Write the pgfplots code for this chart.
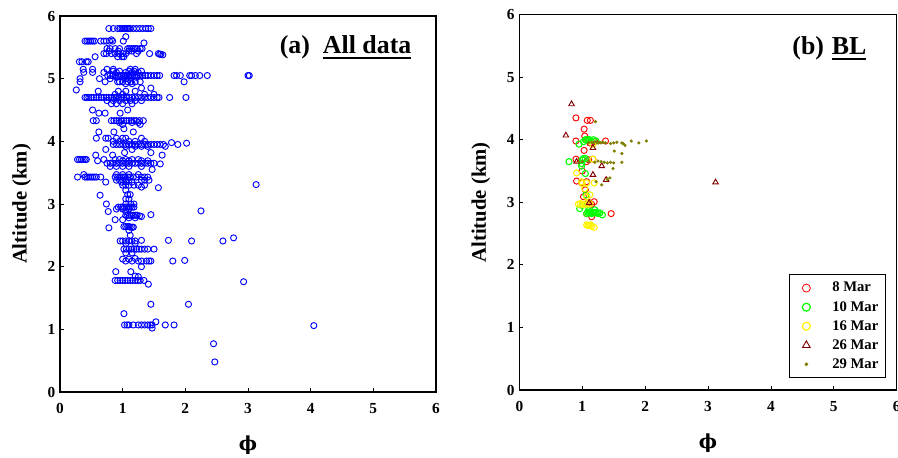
\documentclass[border=0pt]{standalone}
\usepackage{pgfplots}
\pgfplotsset{compat=1.18}
\usepackage{fontspec}
\setmainfont{Liberation Serif}
\newfontfamily\dvserif{DejaVu Serif}
\definecolor{oliveB}{RGB}{128,128,0}
\definecolor{dredB}{RGB}{128,0,0}
\newcommand\ulbox[1]{\setbox0\hbox{#1}\rlap{\rule[-4pt]{\wd0}{1.4pt}}\box0}
\pgfplotsset{
 mystyle/.style={
  scale only axis, width=282pt, height=282pt,
  xmin=0,xmax=6,ymin=0,ymax=6,
  xtick={0,...,6}, ytick={0,...,6},
  tick align=inside, xtick pos=bottom, ytick pos=left,
  major tick length=3pt,
  axis line style={line width=0.8pt},
  tick style={line width=0.6pt, black},
  /pgf/number format/assume math mode=true,
  ticklabel style={font=\bfseries\fontsize{11.5}{13}\selectfont},
  xticklabel style={yshift=-5pt},
  xlabel={{\dvserif\bfseries ϕ}}, ylabel={Altitude (km)},
  every axis x label/.style={at={(axis description cs:0.5,-0.142)},anchor=center,font=\bfseries\fontsize{14.5}{18}\selectfont},
  every axis y label/.style={at={(axis description cs:-0.102,0.5)},rotate=90,anchor=center,font=\bfseries\fontsize{15.5}{18}\selectfont},
  clip=false,
 }
}
\begin{document}
\begin{tikzpicture}
\useasboundingbox (0,0) rectangle (673.5pt,342.75pt);
\begin{axis}[mystyle, at={(45pt,48.75pt)}, anchor=south west]
\addplot[only marks, mark=o, blue, mark size=2.3pt, line width=0.7pt] coordinates {
(0.78,5.80)(0.85,5.80)(0.92,5.80)(0.96,5.80)(0.99,5.80)(1.02,5.80)(1.04,5.80)(1.06,5.80)(1.08,5.80)(1.10,5.80)(1.12,5.80)(1.17,5.80)(1.22,5.80)(1.27,5.80)(1.32,5.80)(1.37,5.80)(1.41,5.80)(1.45,5.80)
(1.05,5.67)
(0.40,5.60)(0.43,5.60)(0.46,5.60)(0.49,5.60)(0.52,5.60)(0.55,5.60)(0.65,5.60)(0.70,5.60)(0.74,5.60)(0.79,5.60)(0.84,5.60)(1.01,5.60)(0.82,5.62)(1.34,5.57)
(0.75,5.48)(0.80,5.48)(0.88,5.48)(0.95,5.48)(1.08,5.48)(1.11,5.48)(1.14,5.48)(1.17,5.48)(1.20,5.48)(1.23,5.48)(1.28,5.48)(1.31,5.48)
(0.78,5.44)(0.93,5.44)(1.10,5.44)(1.15,5.44)(1.25,5.44)
(0.70,5.40)(0.74,5.40)(0.82,5.40)(0.88,5.40)(0.94,5.40)(1.00,5.40)(1.05,5.40)(1.22,5.40)(1.43,5.40)(1.57,5.40)(1.59,5.39)(1.61,5.39)(1.64,5.38)
(0.56,5.35)(0.92,5.35)(0.99,5.35)(1.02,5.35)
(0.31,5.27)(0.35,5.27)(0.42,5.27)(0.45,5.27)
(0.37,5.15)(0.52,5.15)(0.75,5.15)(0.85,5.15)(1.12,5.15)(1.20,5.15)
(0.38,5.10)(0.52,5.10)(0.70,5.10)(0.90,5.10)(1.05,5.10)(1.15,5.10)(1.25,5.10)
(0.32,5.00)(0.63,5.00)(0.80,5.00)(1.05,5.00)
(0.32,4.95)(0.72,4.95)(0.92,4.95)(0.95,4.95)(1.00,4.95)(1.08,4.95)(1.13,4.95)(1.20,4.95)(1.28,4.95)(1.98,4.95)
(0.26,4.82)
(0.76,5.05)(0.80,5.05)(0.84,5.05)(0.88,5.05)(0.92,5.05)(0.95,5.05)(0.98,5.05)(1.01,5.05)(1.04,5.05)(1.07,5.05)(1.10,5.05)(1.13,5.05)(1.16,5.05)(1.19,5.05)(1.22,5.05)(1.25,5.05)(1.28,5.05)(1.32,5.05)(1.36,5.05)(1.40,5.05)(1.45,5.05)(1.50,5.05)(1.55,5.05)(1.59,5.05)(1.82,5.05)(1.86,5.05)(1.92,5.05)(2.07,5.05)(2.10,5.05)(2.16,5.05)(2.23,5.05)(2.35,5.05)(3.00,5.05)(3.02,5.05)
(0.85,5.12)(0.95,5.12)(1.10,5.12)(1.18,5.12)(1.30,5.12)
(0.90,5.02)(1.02,5.02)(1.12,5.02)(1.22,5.02)
(1.05,4.92)(1.15,4.92)
(1.45,4.85)(1.30,4.85)
(0.61,4.80)(0.93,4.80)(1.05,4.80)(1.20,4.80)
(0.88,4.75)(1.00,4.75)(1.35,4.75)(1.50,4.75)
(0.40,4.70)(0.43,4.70)(0.46,4.70)(0.50,4.70)(0.54,4.70)(0.58,4.70)(0.62,4.70)(0.66,4.70)(0.70,4.70)(0.74,4.70)(0.78,4.70)(0.82,4.70)(0.86,4.70)(0.90,4.70)(0.94,4.70)(0.98,4.70)(1.02,4.70)(1.06,4.70)(1.10,4.70)(1.15,4.70)(1.20,4.70)(1.25,4.70)(1.30,4.70)(1.35,4.70)(1.40,4.70)(1.45,4.70)(1.50,4.70)(1.55,4.70)(1.58,4.70)(1.75,4.70)(2.01,4.70)
(0.75,4.65)(0.85,4.65)(0.95,4.65)(1.05,4.65)(1.12,4.65)(1.20,4.65)(1.30,4.65)
(0.82,4.60)(0.90,4.60)(1.00,4.60)(1.15,4.60)
(0.52,4.50)(1.08,4.50)
(0.62,4.45)(0.72,4.45)(0.96,4.45)
(0.53,4.33)(0.58,4.33)(0.82,4.33)(0.86,4.33)(0.90,4.33)(0.94,4.33)(0.98,4.33)(1.02,4.33)(1.06,4.33)(1.10,4.33)(1.14,4.33)(1.18,4.33)(1.22,4.33)(1.27,4.33)(1.33,4.33)
(0.95,4.30)(1.15,4.30)(1.25,4.30)
(1.00,4.27)(1.28,4.27)
(1.02,4.20)
(0.62,4.15)(0.86,4.15)(1.17,4.15)
(0.58,4.05)(0.73,4.05)(0.77,4.05)(0.90,4.05)(1.00,4.05)(1.05,4.05)(1.30,4.05)
(0.85,4.00)(0.95,4.00)(1.10,4.00)(1.20,4.00)(1.35,4.00)
(0.85,3.95)(0.90,3.95)(0.95,3.95)(1.00,3.95)(1.05,3.95)(1.10,3.95)(1.15,3.95)(1.20,3.95)(1.25,3.95)(1.30,3.95)(1.35,3.95)(1.40,3.95)(1.45,3.95)(1.50,3.95)(1.55,3.95)(1.60,3.95)(1.65,3.95)(1.78,3.98)(1.88,3.95)(2.02,3.97)
(1.05,3.92)(1.20,3.92)(1.30,3.92)(1.40,3.92)(1.68,3.92)
(0.73,3.87)(1.15,3.87)
(1.03,3.82)(1.45,3.82)
(0.57,3.78)(0.84,3.78)(1.63,3.78)
(0.28,3.71)(0.31,3.71)(0.34,3.71)(0.37,3.71)(0.40,3.71)(0.42,3.71)(0.70,3.71)(0.88,3.71)(0.95,3.71)(1.05,3.71)(1.15,3.71)(1.25,3.71)
(0.60,3.69)(1.00,3.69)(1.10,3.69)(1.30,3.69)(1.40,3.69)
(0.75,3.65)(0.80,3.65)(0.85,3.65)(0.90,3.65)(0.95,3.65)(1.00,3.65)(1.05,3.65)(1.10,3.65)(1.15,3.65)(1.20,3.65)(1.25,3.65)(1.30,3.65)(1.35,3.65)(1.40,3.65)(1.45,3.65)(1.50,3.65)(1.60,3.64)
(0.80,3.60)(0.90,3.60)(1.00,3.60)(1.10,3.60)(1.30,3.60)
(1.47,3.55)
(0.28,3.43)(0.40,3.43)(0.43,3.43)(0.46,3.43)(0.49,3.43)(0.52,3.43)(0.55,3.43)(0.58,3.43)(0.65,3.43)(0.88,3.43)(0.92,3.43)(0.95,3.43)(0.98,3.43)(1.01,3.43)(1.04,3.43)(1.08,3.43)(1.12,3.43)(1.17,3.43)(1.22,3.43)(1.30,3.43)(1.35,3.43)(1.40,3.43)
(0.38,3.47)(0.90,3.47)(1.00,3.47)(1.10,3.47)(1.25,3.47)
(0.90,3.38)(0.95,3.38)(1.00,3.38)(1.05,3.38)(1.10,3.38)(1.30,3.38)(1.35,3.38)(1.42,3.38)
(0.73,3.35)(0.98,3.35)(1.05,3.35)(1.15,3.35)
(1.00,3.30)(1.05,3.30)(1.10,3.30)(1.18,3.30)(1.25,3.30)(1.35,3.30)(3.13,3.31)
(1.30,3.27)(1.57,3.26)
(1.05,3.22)
(0.64,3.14)(1.08,3.15)(1.12,3.15)
(1.05,3.08)(1.10,3.08)
(0.74,3.00)(1.05,3.00)(1.13,3.00)(1.18,3.00)
(0.93,2.95)(0.97,2.95)(1.00,2.95)(1.03,2.95)(1.06,2.95)(1.09,2.95)(1.12,2.95)(1.15,2.95)(1.18,2.95)
(0.90,2.92)(1.00,2.92)(1.10,2.92)
(0.77,2.88)(1.05,2.88)(2.25,2.89)
(1.05,2.82)(1.08,2.82)(1.11,2.82)(1.14,2.82)(1.17,2.82)(1.20,2.82)(1.23,2.82)(1.27,2.81)(1.45,2.83)
(1.10,2.78)(1.20,2.78)(1.30,2.80)
(0.88,2.75)(1.00,2.75)
(0.78,2.62)
(1.02,2.64)(1.05,2.64)(1.08,2.64)(1.10,2.64)(1.12,2.63)(1.15,2.63)(1.17,2.63)
(1.10,2.58)(1.12,2.50)
(0.96,2.41)(1.00,2.41)(1.05,2.41)(1.10,2.41)(1.15,2.41)(1.20,2.41)(1.30,2.42)(1.73,2.42)(2.10,2.41)(2.60,2.41)(2.77,2.46)
(1.05,2.37)(1.20,2.37)
(1.02,2.28)(1.06,2.28)(1.10,2.28)(1.14,2.28)(1.18,2.28)(1.22,2.28)(1.26,2.28)(1.30,2.28)(1.35,2.28)(1.40,2.28)(1.50,2.28)
(1.05,2.22)(1.15,2.22)
(1.00,2.12)(1.10,2.12)(1.20,2.13)
(1.05,2.09)(1.15,2.09)(1.25,2.09)(1.30,2.09)(1.38,2.09)(1.42,2.09)(1.45,2.09)(1.80,2.09)(1.99,2.10)
(1.30,2.00)
(0.89,1.92)(1.13,1.92)
(1.20,1.85)(1.25,1.84)
(0.88,1.78)(0.92,1.78)(0.96,1.78)(1.00,1.78)(1.04,1.78)(1.08,1.78)(1.12,1.78)(1.16,1.78)(1.20,1.78)(1.24,1.78)(1.28,1.78)(1.34,1.78)(2.93,1.76)
(1.41,1.72)
(1.45,1.40)(2.05,1.40)
(1.02,1.25)
(1.53,1.12)
(1.03,1.07)(1.07,1.07)(1.10,1.07)(1.17,1.07)(1.25,1.07)(1.30,1.07)(1.35,1.07)(1.40,1.07)(1.44,1.07)(1.47,1.07)(1.68,1.07)(1.82,1.07)(4.05,1.06)
(1.47,1.02)
(2.45,0.77)(2.47,0.48)
};
\node[anchor=base east, font=\bfseries\fontsize{19.4}{22}\selectfont] at (axis description cs:0.947,0.9) {(a)\hspace{0.5em}\ulbox{All data}};
\end{axis}
\begin{axis}[mystyle, width=283pt, height=281.5pt, at={(389.5pt,50.25pt)}, anchor=south west,
  legend cell align=left,
  legend image code/.code={\path (0pt,-3pt) (26pt,3pt); \draw[mark repeat=2,mark phase=2,#1] plot coordinates {(0pt,0pt)(9pt,0pt)(18pt,0pt)};},
  legend style={at={(0.972,0.032)}, anchor=south east, draw=black, line width=0.7pt,
    font=\bfseries\fontsize{11}{12}\selectfont, row sep=1.5pt, inner sep=3.5pt}]
\addplot[forget plot, only marks, mark=o, red, mark size=2.3pt, line width=0.7pt] coordinates {
(0.90,4.35)(1.08,4.31)(1.13,4.31)(1.03,4.17)(1.04,4.06)(0.90,3.98)(1.07,4.00)(1.37,3.98)(1.03,3.83)(0.90,3.69)(1.07,3.65)(1.17,3.69)(0.91,3.34)(0.99,3.31)(1.07,3.33)(1.02,3.09)(1.19,3.01)(1.15,2.97)(1.46,2.82)(1.07,2.82)(1.15,2.77)(1.00,3.50)(1.12,3.95)(1.20,3.97)(1.10,3.68)(1.05,3.20)(1.10,3.00)
};
\addplot[forget plot, only marks, mark=o, green, mark size=2.3pt, line width=0.8pt] coordinates {
(0.79,3.65)(0.95,3.93)(1.02,3.97)(1.05,4.00)(1.07,4.00)(1.10,4.00)(1.12,4.00)(1.18,4.00)(1.22,3.98)(1.00,3.68)(1.02,3.70)(1.05,3.70)(0.99,3.62)(1.05,3.46)(0.99,3.58)(1.06,3.12)(0.96,2.90)(1.07,2.82)(1.09,2.84)(1.11,2.83)(1.13,2.85)(1.15,2.82)(1.17,2.84)(1.19,2.83)(1.22,2.84)(1.25,2.82)(1.28,2.83)(1.32,2.80)(1.10,2.87)(1.20,2.88)(1.00,2.95)
};
\addplot[forget plot, only marks, mark=o, yellow, mark size=2.3pt, line width=0.8pt] coordinates {
(0.91,3.47)(0.99,3.33)(1.07,3.31)(1.19,3.31)(1.04,3.22)(1.12,3.12)(1.07,3.09)(0.94,2.97)(0.97,2.98)(1.00,2.97)(1.03,2.96)(1.06,2.98)(1.10,2.97)(1.12,2.98)(1.07,2.64)(1.09,2.63)(1.11,2.63)(1.13,2.64)(1.15,2.62)(1.19,2.60)(1.17,3.69)(1.17,3.93)(1.00,3.30)
};
\addplot[forget plot, only marks, mark=triangle, dredB, mark size=2.4pt, line width=0.7pt] coordinates {
(0.83,4.57)(0.74,4.07)(1.17,3.87)(0.91,3.65)(1.31,3.58)(1.17,3.44)(1.38,3.36)(1.11,2.99)(3.12,3.32)
};
\addplot[forget plot, only marks, mark=*, oliveB, mark size=1pt] coordinates {
(1.10,3.95)(1.15,3.96)(1.18,3.95)(1.20,3.97)(1.23,3.96)(1.26,3.95)(1.28,3.96)(1.30,3.95)(1.33,3.96)(1.37,3.95)(1.45,3.94)(1.50,3.95)(1.55,3.96)(1.63,3.95)(1.65,3.94)(1.68,3.91)(1.78,3.98)(1.90,3.95)(2.02,3.98)(1.21,4.29)(1.51,3.82)(1.63,3.78)(0.95,3.64)(1.00,3.65)(1.10,3.65)(1.20,3.64)(1.25,3.66)(1.30,3.65)(1.35,3.64)(1.40,3.63)(1.45,3.64)(1.50,3.63)(1.63,3.64)(1.49,3.54)(1.44,3.39)(1.40,3.37)(1.31,3.28)(1.22,3.33)
};
\addlegendimage{only marks, mark=o, red, mark size=3pt, line width=0.6pt}
\addlegendentry{8 Mar}
\addlegendimage{only marks, mark=o, green, mark size=3pt, line width=0.9pt}
\addlegendentry{10 Mar}
\addlegendimage{only marks, mark=o, yellow, mark size=3pt, line width=0.9pt}
\addlegendentry{16 Mar}
\addlegendimage{only marks, mark=triangle, dredB, mark size=3.3pt, line width=0.7pt}
\addlegendentry{26 Mar}
\addlegendimage{only marks, mark=*, oliveB, mark size=1pt}
\addlegendentry{29 Mar}
\node[anchor=base east, font=\bfseries\fontsize{19.4}{22}\selectfont] at (axis description cs:0.932,0.893) {(b)\hspace{0.3em}\ulbox{BL}};
\end{axis}
\end{tikzpicture}
\end{document}
